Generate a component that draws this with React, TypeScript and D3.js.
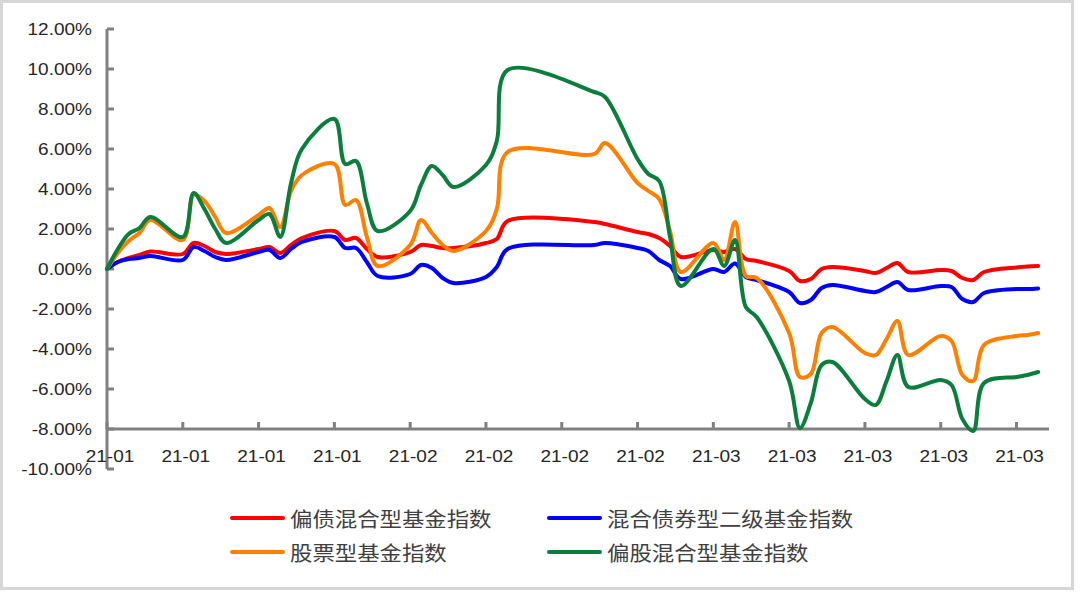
import React from 'react';
import * as d3 from 'd3';

// trading days, 2021 Q1
const dates = [
  '2021-01-04', '2021-01-05', '2021-01-06', '2021-01-07', '2021-01-08',
  '2021-01-11', '2021-01-12', '2021-01-13', '2021-01-14', '2021-01-15',
  '2021-01-18', '2021-01-19', '2021-01-20', '2021-01-21', '2021-01-22',
  '2021-01-25', '2021-01-26', '2021-01-27', '2021-01-28', '2021-01-29',
  '2021-02-01', '2021-02-02', '2021-02-03', '2021-02-04', '2021-02-05',
  '2021-02-08', '2021-02-09', '2021-02-10',
  '2021-02-18', '2021-02-19',
  '2021-02-22', '2021-02-23', '2021-02-24', '2021-02-25', '2021-02-26',
  '2021-03-01', '2021-03-02', '2021-03-03', '2021-03-04', '2021-03-05',
  '2021-03-08', '2021-03-09', '2021-03-10', '2021-03-11', '2021-03-12',
  '2021-03-15', '2021-03-16', '2021-03-17', '2021-03-18', '2021-03-19',
  '2021-03-22', '2021-03-23', '2021-03-24', '2021-03-25', '2021-03-26',
  '2021-03-29', '2021-03-30', '2021-03-31',
];

// values in %
const bondHybrid = [
  0, 0.35, 0.55, 0.7, 0.87, 0.75, 1.3, 1.15, 0.85, 0.75,
  1.0, 1.1, 0.8, 1.2, 1.55, 1.9, 1.45, 1.55, 1.0, 0.6,
  0.85, 1.2, 1.15, 1.05, 1.05, 1.3, 1.5, 2.4, 2.35, 2.25,
  1.85, 1.75, 1.55, 1.15, 0.6, 0.95, 0.85, 1.0, 0.5, 0.4,
  -0.1, -0.6, -0.5, 0.0, 0.1, -0.1, -0.2, 0.05, 0.3, -0.15,
  -0.05, -0.1, -0.45, -0.55, -0.15, 0.08, 0.12, 0.15,
];
const secondaryBond = [
  0, 0.35, 0.5, 0.55, 0.65, 0.45, 1.1, 0.9, 0.6, 0.45,
  0.85, 0.95, 0.55, 1.0, 1.35, 1.6, 1.05, 1.05, 0.35, -0.35,
  -0.25, 0.2, 0.05, -0.45, -0.7, -0.4, 0.1, 1.0, 1.2, 1.3,
  1.05, 0.9, 0.45, 0.15, -0.5, 0.0, -0.15, 0.28, -0.4, -0.55,
  -1.15, -1.7, -1.55, -0.95, -0.8, -1.1, -1.15, -0.9, -0.65, -1.05,
  -0.85, -0.9, -1.5, -1.65, -1.2, -1.0, -1.0, -0.97,
];
const stockFund = [
  0, 0.8, 1.4, 1.8, 2.45, 1.45, 3.7, 3.4, 2.6, 1.8,
  2.7, 3.05, 2.1, 3.9, 4.7, 5.25, 3.2, 3.45, 1.6, 0.15,
  1.2, 2.45, 1.8, 1.2, 0.9, 1.9, 3.0, 5.85, 5.75, 6.3,
  4.3, 3.9, 3.5, 1.9, -0.15, 1.3, 0.45, 2.35, -0.35, -0.45,
  -3.2, -5.4, -5.25, -3.2, -2.9, -4.2, -4.3, -3.5, -2.6, -4.3,
  -3.35, -3.6, -5.3, -5.6, -3.8, -3.35, -3.3, -3.2,
];
const equityHybrid = [
  0, 1.0, 1.75, 2.05, 2.6, 1.6, 3.8, 3.0, 2.0, 1.3,
  2.45, 2.75, 1.6, 4.3, 6.0, 7.5, 5.25, 5.4, 3.3, 1.9,
  2.9, 4.2, 5.15, 4.7, 4.1, 5.2, 6.4, 9.95, 8.85, 8.6,
  5.5, 4.75, 4.4, 1.6, -0.85, 1.0, 0.15, 1.45, -1.9, -2.4,
  -5.6, -7.95, -6.7, -4.8, -4.65, -6.5, -6.8, -5.6, -4.3, -5.9,
  -5.55, -5.8, -7.5, -8.1, -5.7, -5.4, -5.3, -5.15,
];

const seriesNames = ['偏债混合型基金指数', '混合债券型二级基金指数', '股票型基金指数', '偏股混合型基金指数'];
const seriesColors = ['#ff0000', '#0000ff', '#ff8000', '#0b7d3c'];
const seriesValues = [bondHybrid, secondaryBond, stockFund, equityHybrid];

const yTicks = [12, 10, 8, 6, 4, 2, 0, -2, -4, -6, -8, -10];

export default function App() {
  const width = 1080;
  const height = 593;
  const axisColor = '#808080';
  const sx = 1.12; // text in the reference is a bit stretched

  const parse = d3.timeParse('%Y-%m-%d');
  const days = dates.map(d => parse(d) as Date);

  const x = d3.scaleTime()
    .domain([new Date(2021, 0, 4), new Date(2021, 3, 1)])
    .range([107, 1049]);
  const y = d3.scaleLinear().domain([-10, 12]).range([469, 29]);

  const xTicks = d3.timeMonday.range(new Date(2021, 0, 4), new Date(2021, 3, 1));
  const fmt = d3.timeFormat('%y-%m');

  const line = d3.line<number>()
    .x((_, i) => x(days[i]))
    .y(v => y(v))
    .curve(d3.curveCatmullRom.alpha(0.5));

  const legendPos = [
    { x: 232, y: 518 },
    { x: 549, y: 518 },
    { x: 232, y: 552 },
    { x: 549, y: 552 },
  ];

  return (
    <div style={{ position: 'absolute', left: 0, top: 0 }}>
      <svg width={width} height={height} style={{ display: 'block', background: '#fff' }}>
        <rect x={1.5} y={1.5} width={1071} height={587} fill="none" stroke="#d6d6d6" strokeWidth={3} />

        {/* y axis */}
        <line x1={107} x2={107} y1={y(12)} y2={y(-10)} stroke={axisColor} strokeWidth={3} />
        {yTicks.map(t => (
          <g key={t}>
            <line x1={107} x2={114} y1={y(t)} y2={y(t)} stroke={axisColor} strokeWidth={3} />
            <text
              transform={`translate(92,${y(t)}) scale(${sx},1)`}
              textAnchor="end"
              dominantBaseline="central"
              fontFamily="'Liberation Sans', Arial, sans-serif"
              fontSize={17}
              fill="#262626"
            >
              {t.toFixed(2) + '%'}
            </text>
          </g>
        ))}

        {/* x axis at -8% */}
        <line x1={107} x2={1049} y1={y(-8)} y2={y(-8)} stroke={axisColor} strokeWidth={3} />
        {xTicks.map((t, i) => (
          <g key={i}>
            <line x1={x(t)} x2={x(t)} y1={y(-8)} y2={y(-8) - 7} stroke={axisColor} strokeWidth={3} />
            <text
              transform={`translate(${x(t) + 3},${456}) scale(${sx},1)`}
              textAnchor="middle"
              dominantBaseline="central"
              fontFamily="'Liberation Sans', Arial, sans-serif"
              fontSize={17}
              fill="#262626"
            >
              {fmt(t)}
            </text>
          </g>
        ))}

        {/* series */}
        {seriesValues.map((vals, i) => (
          <path
            key={i}
            d={line(vals) || ''}
            fill="none"
            stroke={seriesColors[i]}
            strokeWidth={4}
            strokeLinejoin="round"
            strokeLinecap="round"
          />
        ))}

        {/* legend */}
        {seriesNames.map((name, i) => (
          <g key={name}>
            <line
              x1={legendPos[i].x}
              x2={legendPos[i].x + 51}
              y1={legendPos[i].y}
              y2={legendPos[i].y}
              stroke={seriesColors[i]}
              strokeWidth={4}
              strokeLinecap="round"
            />
            <text
              transform={`translate(${legendPos[i].x + 58},${legendPos[i].y}) scale(${sx},1)`}
              dominantBaseline="central"
              fontFamily="'Noto Sans CJK SC', sans-serif"
              fontSize={20}
              fill="#404040"
            >
              {name}
            </text>
          </g>
        ))}
      </svg>
    </div>
  );
}
